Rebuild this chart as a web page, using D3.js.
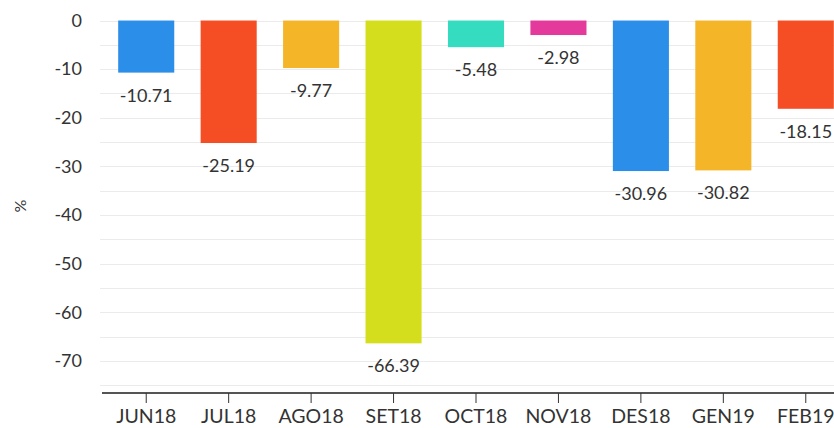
<!DOCTYPE html>
<html>
<head>
<meta charset="utf-8">
<script src="https://cdn.jsdelivr.net/npm/d3@7"></script>
<style>
  body { margin: 0; background: #fff; }
  svg { display: block; font-family: Lato, "Open Sans", sans-serif; }
</style>
</head>
<body>
<svg id="chart" width="834" height="428"></svg>
<script>
// data
var months = ['JUN18', 'JUL18', 'AGO18', 'SET18', 'OCT18', 'NOV18', 'DES18', 'GEN19', 'FEB19'];
var values = [-10.71, -25.19, -9.77, -66.39, -5.48, -2.98, -30.96, -30.82, -18.15];
var barColors = ['#2b8ee8', '#f54d24', '#f5b529', '#d5de1d', '#36dcc0', '#e33a9c', '#2b8ee8', '#f5b529', '#f54d24'];
var yTicks = [0, -10, -20, -30, -40, -50, -60, -70];
var gridValues = [0, -5, -10, -15, -20, -25, -30, -35, -40, -45, -50, -55, -60, -65, -70, -75];

var svg = d3.select('#chart');

// plot runs past the right edge, like the reference crop
var x = d3.scaleBand()
  .domain(months)
  .range([105, 847])
  .paddingInner(0.32)
  .paddingOuter(0.16);

var y = d3.scaleLinear()
  .domain([-76.5, 1.2])
  .range([392.5, 14.7]);

// grid
svg.append('g')
  .selectAll('line')
  .data(gridValues)
  .enter()
  .append('line')
  .attr('x1', 100)
  .attr('x2', 834)
  .attr('y1', function(d) { return Math.round(y(d)) + 0.5; })
  .attr('y2', function(d) { return Math.round(y(d)) + 0.5; })
  .attr('stroke', '#ebebeb')
  .attr('stroke-width', 1);

// y axis labels only
var yAxis = svg.append('g')
  .attr('transform', 'translate(82,0)')
  .call(d3.axisLeft(y).tickValues(yTicks).tickSize(0).tickPadding(0)
    .tickFormat(function(d) { return String(d); }));
yAxis.select('.domain').remove();
yAxis.selectAll('text')
  .attr('font-size', 18)
  .attr('fill', '#333')
  .attr('font-family', 'Lato, sans-serif');

svg.append('text')
  .attr('transform', 'translate(26,206) rotate(-90)')
  .attr('text-anchor', 'middle')
  .attr('font-size', 16)
  .attr('fill', '#333')
  .text('%');

// bars
svg.append('g')
  .selectAll('rect')
  .data(values)
  .enter()
  .append('rect')
  .attr('x', function(d, i) { return x(months[i]); })
  .attr('y', y(0))
  .attr('width', x.bandwidth())
  .attr('height', function(d) { return y(d) - y(0); })
  .attr('fill', function(d, i) { return barColors[i]; });

// value labels
svg.append('g')
  .selectAll('text')
  .data(values)
  .enter()
  .append('text')
  .attr('x', function(d, i) { return x(months[i]) + x.bandwidth() / 2; })
  .attr('y', function(d) { return y(d) + 29; })
  .attr('text-anchor', 'middle')
  .attr('font-size', 18)
  .attr('fill', '#333')
  .text(function(d) { return d.toFixed(2); });

// x axis
var xAxis = svg.append('g')
  .attr('transform', 'translate(0,' + 393 + ')')
  .call(d3.axisBottom(x).tickSize(10).tickPadding(6));
xAxis.select('.domain')
  .attr('d', 'M102,0H847')
  .attr('stroke', '#555')
  .attr('stroke-width', 2);
xAxis.selectAll('.tick line').attr('stroke', '#333');
xAxis.selectAll('text')
  .attr('font-size', 19.5)
  .attr('fill', '#333')
  .attr('font-family', 'Lato, sans-serif');
</script>
</body>
</html>
